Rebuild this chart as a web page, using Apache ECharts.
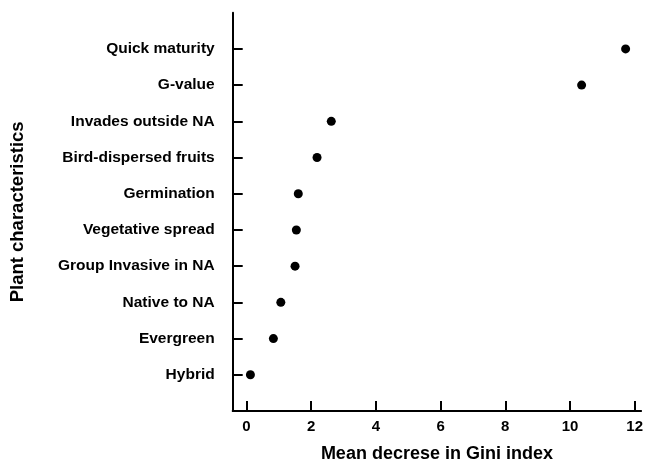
<!DOCTYPE html>
<html><head><meta charset="utf-8">
<script src="https://cdn.jsdelivr.net/npm/echarts@6/dist/echarts.min.js"></script>
<style>html,body{margin:0;padding:0;background:#fff}#c{width:646px;height:468px}</style>
</head><body><div id="c"></div>
<script>
// Categories top to bottom as shown
const categories = ["Quick maturity","G-value","Invades outside NA","Bird-dispersed fruits","Germination","Vegetative spread","Group Invasive in NA","Native to NA","Evergreen","Hybrid"];
const values = [11.72, 10.36, 2.62, 2.18, 1.60, 1.54, 1.50, 1.06, 0.83, 0.12];
const xTicks = [0, 2, 4, 6, 8, 10, 12];

const yCats = [""].concat(categories.slice().reverse()).concat([""]);
const data = categories.map((c, i) => [values[i], c]);
const font = "Liberation Sans";
const chart = echarts.init(document.getElementById('c'));
chart.setOption({
  animation: false,
  grid: {left: 232.7, right: 0, top: 12.7, bottom: 55.3, containLabel: false},
  xAxis: {
    type: 'value', min: -0.428, max: 12.2,
    splitLine: {show: false},
    axisLine: {show: true, onZero: false, lineStyle: {color: '#000', width: 2}},
    axisTick: {show: true, inside: true, length: 10, customValues: xTicks, lineStyle: {color: '#000', width: 2}},
    axisLabel: {customValues: xTicks, color: '#000', fontFamily: font, fontWeight: 'bold', fontSize: 15, margin: 8},
    name: 'Mean decrese in Gini index', nameLocation: 'middle', nameGap: 34,
    nameTextStyle: {color: '#000', fontFamily: font, fontWeight: 'bold', fontSize: 18}
  },
  yAxis: {
    type: 'category', data: yCats, boundaryGap: false,
    splitLine: {show: false},
    axisLine: {show: true, onZero: false, lineStyle: {color: '#000', width: 2}},
    axisTick: {show: true, inside: true, length: 10, interval: (i) => i > 0 && i < yCats.length - 1, lineStyle: {color: '#000', width: 2}},
    axisLabel: {color: '#000', fontFamily: font, fontWeight: 'bold', fontSize: 15.5, margin: 18, interval: 0},
    name: 'Plant characteristics', nameLocation: 'middle', nameGap: 205, nameRotate: 90,
    nameTextStyle: {color: '#000', fontFamily: font, fontWeight: 'bold', fontSize: 18.5}
  },
  series: [{
    type: 'scatter', data: data, symbolSize: 9,
    itemStyle: {color: '#000', opacity: 1}
  }]
});
</script></body></html>
